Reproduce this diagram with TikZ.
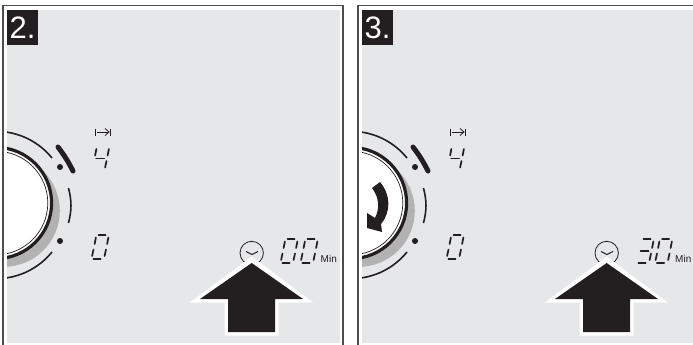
\documentclass[tikz,border=0pt]{standalone}
\usepackage{fontspec}
\setmainfont{Liberation Sans}
\definecolor{panel}{HTML}{E6E7E9}
\definecolor{ink}{HTML}{231F20}
\tikzset{
  segline/.style={ink,line width=1.7pt,line cap=round},
  framebox/.style={draw=ink!80,line width=1.4pt},
  numbox/.style={fill=ink,text=white,font=\fontsize{31}{31}\selectfont,inner sep=0pt,minimum width=31pt,minimum height=35pt},
  dialarc/.style={ink,line width=1.6pt},
  mintext/.style={font=\fontsize{10}{10}\selectfont,text=ink,inner sep=0pt,anchor=base west},
  bigarrowout/.style={fill=white},
  bigarrowin/.style={fill=ink}
}
% seven segment digit: origin = bottom-left
\newcommand{\dsegT}{\draw[segline] (7.6,-24) -- (14.6,-24);}
\newcommand{\dsegM}{\draw[segline] (4.6,-12) -- (12.6,-12);}
\newcommand{\dsegB}{\draw[segline] (2.4,0) -- (9.6,0);}
\newcommand{\dsegUL}{\draw[segline] (4.9,-21.5) -- (3.6,-15);}
\newcommand{\dsegLL}{\draw[segline] (2.5,-9.5) -- (1.1,-3);}
\newcommand{\dsegUR}{\draw[segline] (17.4,-21.5) -- (16.1,-15);}
\newcommand{\dsegLR}{\draw[segline] (15,-9.5) -- (13.6,-3);}
\newcommand{\digitzero}{\dsegT\dsegB\dsegUL\dsegLL\dsegUR\dsegLR}
\newcommand{\digitfour}{\dsegM\dsegUL\dsegUR\dsegLR}
\newcommand{\digitthree}{\dsegT\dsegM\dsegB\dsegUR\dsegLR}
\begin{document}
\begin{tikzpicture}[x=1pt,y=-1pt]
\useasboundingbox (0,0) rectangle (693,345);
% panel 1
\draw[framebox] (3,5.5) -- (343,5.5) -- (343,345) (3,5.5) -- (3,345);
\fill[panel] (7,10.5) rectangle (340,342.5);
% panel 2
\draw[framebox] (693,5.5) -- (358,5.5) -- (358,345);
\fill[panel] (362,10.5) rectangle (693,342.5);
\node[numbox] (n2) at (22.5,27.5) {2.};
\node[numbox] (n3) at (377.5,27.5) {3.};
\foreach \ox in {0,355}{
\begin{scope}[xshift=\ox]
  \begin{scope}
    \clip (7,10.5) rectangle (340,342.5);
    \fill[black!30] (3.8,210.8) circle (56);
    \fill[white] (-4,203) circle (56.5);
    \draw[ink,line width=3.2pt] (-4,203) circle (55.6);
    \draw[ink,line width=0.7pt] (-4,203) circle (51.8);
    \draw[dialarc] (52,158) arc[start angle=-39,end angle=-100,radius=72];
    \draw[dialarc] (52,252) arc[start angle=39,end angle=100,radius=72];
  \end{scope}
  \draw[dialarc] (68.5,188) to[bend left=14] (68.5,223);
  \fill[ink] (60,167) circle (3);
  \fill[ink] (60,241) circle (3);
  \draw[ink,line width=5pt,line cap=round] (58,147) to[bend left=5] (73,171);
  % skip icon
  \draw[ink,line width=0.8pt] (95.5,128.5) -- (95.5,135.5);
  \draw[ink,line width=0.8pt] (110.5,128.5) -- (110.5,135.5);
  \draw[ink,line width=0.8pt] (97,132) -- (109,132);
  \draw[ink,line width=0.8pt] (105,128.5) -- (109,132) -- (105,135.5);
  \begin{scope}[shift={(91.5,170.5)}] \digitfour \end{scope}
  \begin{scope}[shift={(91,259)}] \digitzero \end{scope}
  % clock
  \draw[ink,line width=0.8pt] (251.7,253) circle (11.7);
  \draw[ink,line width=1.1pt] (246,251.5) -- (252,254.5) -- (258,251.5);
  % arrow
  \fill[bigarrowout] (251.7,256.5) -- (313,302.5) -- (278.5,302.5) -- (278.5,335.5) -- (224.5,335.5) -- (224.5,302.5) -- (190,302.5) -- cycle;
  \fill[bigarrowin] (251.7,263) -- (303,299) -- (275,299) -- (275,332) -- (228,332) -- (228,299) -- (200,299) -- cycle;
\end{scope}
}
% time digits
\begin{scope}[shift={(280,263)}] \digitzero \end{scope}
\begin{scope}[shift={(300,263)}] \digitzero \end{scope}
\begin{scope}[shift={(636,263)}] \digitthree \end{scope}
\begin{scope}[shift={(654.5,263)}] \digitzero \end{scope}
\node[mintext] (m1) at (320.5,262) {Min};
\node[mintext] (m2) at (675,262) {Min};
% rotation arrow
\fill[ink] (380,182) .. controls (391,195) and (391,212) .. (381,224) -- (382,232) -- (367,228) -- (367,213) -- (375,218) .. controls (380,208) and (379,197) .. (372,188) -- cycle;
\end{tikzpicture}
\end{document}
